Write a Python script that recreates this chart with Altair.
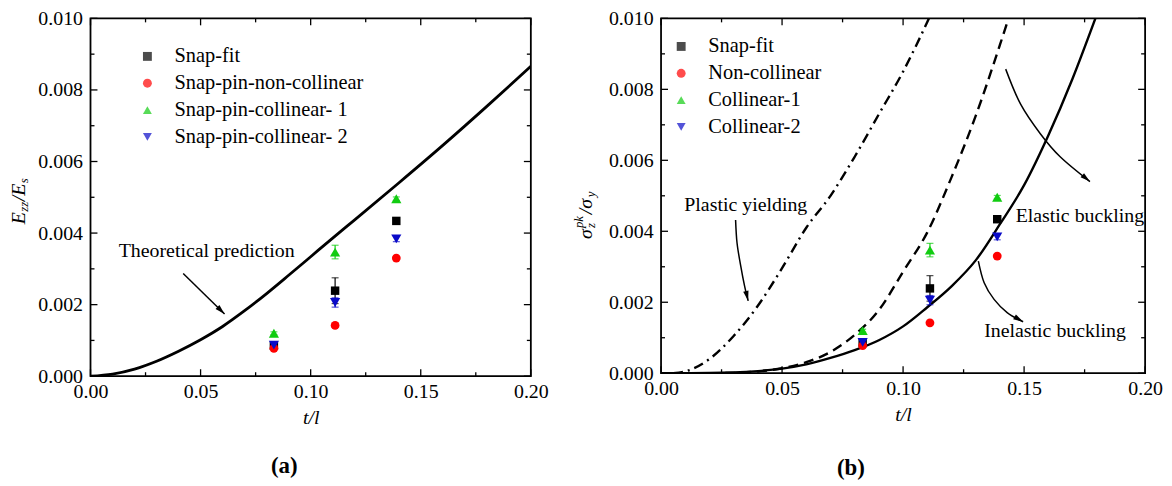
import math
import altair as alt
import pandas as pd

FONT = "Liberation Serif"

# ---------------- data ----------------
t_exp = [0.0833, 0.1111, 0.1389]
names_a = ["Snap-fit", "Snap-pin-non-collinear", "Snap-pin-collinear- 1", "Snap-pin-collinear- 2"]
names_b = ["Snap-fit", "Non-collinear", "Collinear-1", "Collinear-2"]
colors = ["#000000", "#ff0000", "#11cc11", "#0a0ac8"]
shapes = ["square", "circle", "triangle-up", "triangle-down"]
sizes = [72, 78, 105, 105]

snapfit = [0.00085, 0.00239, 0.00434]
snapfit_err = [0.00005, 0.00036, 0.00006]
noncol = [0.00078, 0.00142, 0.00330]
noncol_err = [0.00003, 0.00004, 0.00003]
col1 = [0.00120, 0.00347, 0.00496]
col1_err = [0.00004, 0.00019, 0.00005]
col2 = [0.00087, 0.00206, 0.00384]
col2_err = [0.00007, 0.00013, 0.00008]

theory_t = [0.0, 0.01, 0.02, 0.03, 0.04, 0.05, 0.06, 0.07, 0.08, 0.09, 0.10, 0.11, 0.12, 0.14, 0.16, 0.18, 0.20]
theory_v = [0.0, 0.00006, 0.0002, 0.00042, 0.0007, 0.00102, 0.00139, 0.00183, 0.00231, 0.00282, 0.00334,
            0.00386, 0.00437, 0.0054, 0.00645, 0.00754, 0.00866]

yield_t = [0.005, 0.01, 0.02, 0.03, 0.04, 0.05, 0.06, 0.07, 0.08, 0.09, 0.10, 0.11, 0.112]
yield_v = [0.0, 0.00005, 0.0004, 0.00105, 0.0019, 0.00296, 0.0041, 0.0050, 0.0061, 0.0073, 0.0085, 0.0099, 0.0102]

dash_t = [0.02, 0.03, 0.04, 0.05, 0.06, 0.07, 0.08, 0.09, 0.10, 0.11, 0.12, 0.13, 0.14, 0.145]
dash_v = [0.0, 0.00001, 0.00005, 0.00014, 0.00031, 0.0006, 0.00108, 0.00178, 0.00286, 0.00397, 0.00552,
          0.00725, 0.00925, 0.0103]

buck_t = [0.0, 0.02, 0.03, 0.04, 0.05, 0.06, 0.07, 0.08, 0.09, 0.10, 0.11, 0.12, 0.13, 0.14, 0.15, 0.16, 0.17, 0.18]
buck_v = [0.0, 0.000005, 0.00002, 0.00006, 0.00013, 0.00025, 0.00043, 0.00065, 0.00093, 0.00132, 0.00186,
          0.00245, 0.00318, 0.0042, 0.0053, 0.0067, 0.0083, 0.0101]

x_major = [0.0, 0.05, 0.10, 0.15, 0.20]
x_minor = [0.025, 0.075, 0.125, 0.175]
y_major = [0.0, 0.002, 0.004, 0.006, 0.008, 0.010]
y_minor = [0.001, 0.003, 0.005, 0.007, 0.009]

# annotations (data coordinates)
ann_a_text = ["Theoretical prediction"]
ann_a_t = [0.0128]
ann_a_v = [0.0035]
arrow_a = [([0.0421, 0.0609], [0.00287, 0.00174])]

ann_b_text = ["Plastic yielding", "Elastic buckling", "Inelastic buckling"]
ann_b_t = [0.0096, 0.1465, 0.1335]
ann_b_v = [0.00474, 0.00442, 0.0012]
arrow_b = [
    ([0.0308, 0.0314, 0.0329, 0.0345, 0.0360], [0.00432, 0.00367, 0.00303, 0.00246, 0.00204]),
    ([0.1424, 0.1485, 0.1567, 0.1649, 0.1772], [0.00857, 0.00759, 0.00675, 0.0061, 0.0054]),
    ([0.1311, 0.1335, 0.1376, 0.1430, 0.1496], [0.00316, 0.00255, 0.00208, 0.00171, 0.00145]),
]

# ---------------- helpers ----------------
XS = alt.Scale(domain=[0, 0.2], nice=False, zero=False)
YS = alt.Scale(domain=[0, 0.01], nice=False, zero=False)

AX = alt.Axis(values=x_major, format=".2f", ticks=False, domain=False, grid=False,
              labelFont=FONT, labelFontSize=20, labelColor="black", labelPadding=5,
              labelFlush=False, labelOverlap=False,
              title="t/l", titleFont=FONT, titleFontSize=20, titleFontStyle="italic",
              titleFontWeight="normal", titleColor="black", titlePadding=7)
AY = alt.Axis(values=y_major, format=".3f", ticks=False, domain=False, grid=False,
              labelFont=FONT, labelFontSize=20, labelColor="black", labelPadding=8,
              labelFlush=False, labelOverlap=False, title="")


def X(f):
    return alt.X(f, type="quantitative", scale=XS, axis=AX, title="t/l")


def Y(f):
    return alt.Y(f, type="quantitative", scale=YS, axis=AY, title="")


def tick_layers(W, H):
    layers = []
    for vals, ln in [(x_major, 7), (x_minor, 4)]:
        d = pd.DataFrame({"p": vals})
        layers.append(alt.Chart(d).mark_rule(color="black", strokeWidth=1.3).encode(
            x=X("p"), y=alt.value(H), y2=alt.value(H - ln)))
        layers.append(alt.Chart(d).mark_rule(color="black", strokeWidth=1.3).encode(
            x=X("p"), y=alt.value(0), y2=alt.value(ln)))
    for vals, ln in [(y_major, 7), (y_minor, 4)]:
        d = pd.DataFrame({"p": vals})
        layers.append(alt.Chart(d).mark_rule(color="black", strokeWidth=1.3).encode(
            y=Y("p"), x=alt.value(0), x2=alt.value(ln)))
        layers.append(alt.Chart(d).mark_rule(color="black", strokeWidth=1.3).encode(
            y=Y("p"), x=alt.value(W), x2=alt.value(W - ln)))
    return layers


def point_layers(names, lx, ly):
    rows = []
    series = [(snapfit, snapfit_err), (noncol, noncol_err), (col1, col1_err), (col2, col2_err)]
    for name, col, sz, (vals, errs) in zip(names, colors, sizes, series):
        for t, v, e in zip(t_exp, vals, errs):
            rows.append({"t": t, "v": v, "lo": v - e, "hi": v + e, "series": name, "col": col, "sz": sz})
    d = pd.DataFrame(rows)
    cs = alt.Scale(domain=names, range=colors)
    ss = alt.Scale(domain=names, range=shapes)
    leg = alt.Legend(orient="none", legendX=lx, legendY=ly, labelFont=FONT, labelFontSize=20.5,
                     labelColor="black", symbolSize=80, symbolStrokeWidth=0, symbolOpacity=1,
                     rowPadding=6, labelOffset=17, padding=0, labelLimit=400)
    err = alt.Chart(d).mark_rule(strokeWidth=1.2).encode(
        x=X("t"), y=Y("lo"), y2="hi", color=alt.Color("col:N", scale=None))
    caps_lo = alt.Chart(d).mark_tick(orient="horizontal", size=7, thickness=1.2).encode(
        x=X("t"), y=Y("lo"), color=alt.Color("col:N", scale=None))
    caps_hi = alt.Chart(d).mark_tick(orient="horizontal", size=7, thickness=1.2).encode(
        x=X("t"), y=Y("hi"), color=alt.Color("col:N", scale=None))
    pts = alt.Chart(d).mark_point(filled=True, opacity=1, strokeWidth=0).encode(
        x=X("t"), y=Y("v"),
        color=alt.Color("series:N", scale=cs, legend=leg, title=None),
        shape=alt.Shape("series:N", scale=ss, legend=leg, title=None),
        size=alt.Size("sz:Q", scale=None))
    return [err, caps_lo, caps_hi, pts]


def curve(ts, vs, dash=None, width=2.6):
    d = pd.DataFrame({"t": ts, "v": vs})
    kw = dict(color="black", strokeWidth=width, interpolate="monotone", clip=True)
    if dash:
        kw["strokeDash"] = dash
    return alt.Chart(d).mark_line(**kw).encode(x=X("t"), y=Y("v"))


def arrow(ts, vs, W, H):
    d = pd.DataFrame({"t": ts, "v": vs, "i": list(range(len(ts)))})
    line = alt.Chart(d).mark_line(color="black", strokeWidth=1.5, interpolate="cardinal").encode(
        x=X("t"), y=Y("v"), order="i:Q")
    dx = (ts[-1] - ts[-2]) * W / 0.2
    dy = -(vs[-1] - vs[-2]) * H / 0.01
    ang = math.degrees(math.atan2(dx, -dy)) % 360
    hd = pd.DataFrame({"t": [ts[-1]], "v": [vs[-1]]})
    head = alt.Chart(hd).mark_point(shape="M0,0L0.55,2L-0.55,2Z", filled=True, color="black",
                                    opacity=1, size=100, angle=ang, strokeWidth=0).encode(
        x=X("t"), y=Y("v"))
    return [line, head]


def texts(labels, ts, vs):
    d = pd.DataFrame({"t": ts, "v": vs, "s": labels})
    return alt.Chart(d).mark_text(font=FONT, fontSize=20, align="left", baseline="middle",
                                  color="black").encode(x=X("t"), y=Y("v"), text="s:N")


def rot_text(s, x, y, size):
    d = pd.DataFrame({"a": [0]})
    return alt.Chart(d).mark_text(text=s, font=FONT, fontSize=size, fontStyle="italic",
                                  align="left", baseline="middle", angle=270, color="black").encode(
        x=alt.value(x), y=alt.value(y))


def panel_label(s, x, y):
    d = pd.DataFrame({"a": [0]})
    return alt.Chart(d).mark_text(text=s, font=FONT, fontSize=23, fontWeight="bold",
                                  align="center", baseline="middle", color="black").encode(
        x=alt.value(x), y=alt.value(y))


# ---------------- panel (a) ----------------
W1, H1 = 443, 360
la = [curve(theory_t, theory_v, width=2.8)]
la += tick_layers(W1, H1)
la += point_layers(names_a, 47, 28)
la.append(texts(ann_a_text, ann_a_t, ann_a_v))
for ts, vs in arrow_a:
    la += arrow(ts, vs, W1, H1)
ya = -72
y0 = 207
la += [rot_text("E", ya, y0, 20), rot_text("zz", ya + 5, y0 - 12.5, 13),
       rot_text("/E", ya, y0 - 23, 20), rot_text("s", ya + 5, y0 - 41, 13)]
la.append(panel_label("(a)", 195, 450))
left = alt.layer(*la).properties(width=W1, height=H1)

# ---------------- panel (b) ----------------
W2, H2 = 487, 357
lb = [curve(yield_t, yield_v, dash=[10, 5, 2, 5], width=2.4),
      curve(dash_t, dash_v, dash=[10, 6], width=2.4),
      curve(buck_t, buck_v, width=2.4)]
lb += tick_layers(W2, H2)
lb += point_layers(names_b, 10, 18)
lb.append(texts(ann_b_text, ann_b_t, ann_b_v))
for ts, vs in arrow_b:
    lb += arrow(ts, vs, W2, H2)
yb = -75
y1 = 222
lb += [rot_text("σ", yb, y1, 20), rot_text("z", yb + 5, y1 - 11, 13),
       rot_text("pk", yb - 8, y1 - 11, 13),
       rot_text("/σ", yb, y1 - 25, 20), rot_text("y", yb + 5, y1 - 42, 13)]
lb.append(panel_label("(b)", 191, 452))
right = alt.layer(*lb).properties(width=W2, height=H2)

chart = alt.hconcat(left, right, spacing=22).resolve_scale(
    color="independent", shape="independent"
).configure_view(stroke="black", strokeWidth=1.8).properties(
    padding={"left": 0, "top": -2, "right": 0, "bottom": 0}
)

chart.save("out.html", embed_options={"renderer": "svg", "actions": False})
